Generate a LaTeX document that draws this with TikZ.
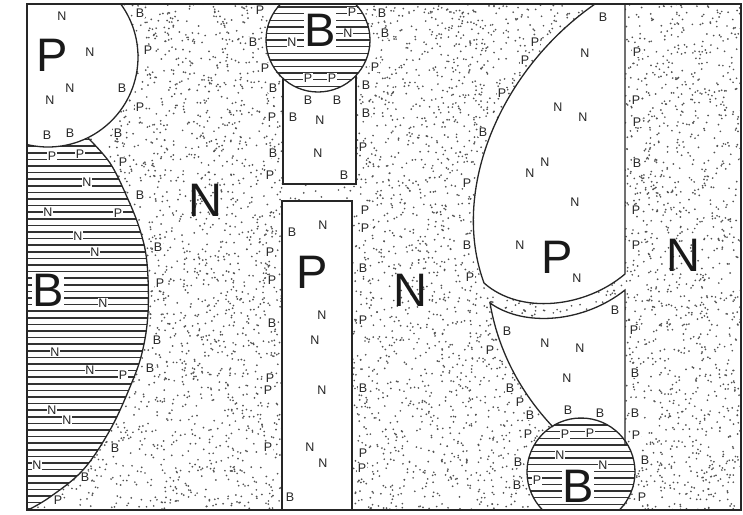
\documentclass[tikz,border=0pt]{standalone}
\usepackage{fontspec}
\setmainfont{Liberation Sans}
\begin{document}
\begin{tikzpicture}[x=1pt,y=-1pt,
  bd/.style={line width=1.3pt,draw=black!85},
  hatch/.style={line width=1.5pt,draw=black!80},
  dotc/.style={fill=black!68},
  sm/.style={font=\fontsize{12.5}{12.5}\selectfont,inner sep=0.7pt,fill=white,text=black!85},
  big/.style={font=\fontsize{47}{47}\selectfont,inner sep=0.5pt,text=black!90},
  bigw/.style={big,fill=white}]
\useasboundingbox[fill=white] (0,0) rectangle (743,514);
\begin{scope}
\clip (27,4) rectangle (741,510);
% stipple
\pgfmathsetseed{11}
\foreach \i in {1,...,7600}{\fill[dotc] ({27+714*rnd},{4+506*rnd}) circle (0.95);}
% left hatched region
\begin{scope}
\clip (20,100) -- (110,100) -- plot[smooth,tension=0.6] coordinates {(88,138) (110,163) (127,197) (140,230) (147,263) (148,313) (142,353) (130,387) (110,430) (83,470) (50,497) (28,510)} -- (20,515) -- cycle;
\fill[white] (0,0) rectangle (743,514);
\foreach \y in {1,7.6,...,520} \draw[hatch] (20,\y) -- (200,\y);
\end{scope}
% top-left circle
\fill[white] (48,57) circle (90);
% middle column
\fill[white] (283,60) rectangle (356,184);
\fill[white] (282,201) rectangle (352,512);
\begin{scope}
\clip (318,40) circle (52);
\fill[white] (0,0) rectangle (743,514);
\foreach \y in {0.5,7.1,...,100} \draw[hatch] (260,\y) -- (380,\y);
\end{scope}
% right lenses
\fill[white] (595,4) .. controls (500,70) and (450,190) .. (484,283) .. controls (520,315) and (585,308) .. (625,274) -- (625,4) -- cycle;
\fill[white] (490,303) .. controls (525,328) and (585,322) .. (625,290) -- (625,460) -- (560,460) -- (553,427) .. controls (520,392) and (498,350) .. (490,303) -- cycle;
\begin{scope}
\clip (581,472) circle (54);
\fill[white] (0,0) rectangle (743,514);
\foreach \y in {418.5,425.1,...,520} \draw[hatch] (520,\y) -- (640,\y);
\end{scope}
% small labels
\foreach \x/\y/\t [count=\i] in {
 62/16/N, 90/52/N, 70/88/N, 50/100/N, 122/88/B, 47/135/B, 70/133/B,
 140/13/B, 148/50/P, 140/107/P, 118/133/B, 123/162/P,
 52/156/P, 80/154/P, 87/182/N, 48/212/N, 118/213/P, 78/236/N, 95/252/N, 103/303/N,
 55/352/N, 90/370/N, 123/375/P, 52/410/N, 67/420/N, 37/465/N,
 140/195/B, 158/247/B, 160/283/P, 157/340/B, 150/368/B, 115/448/B, 85/477/B, 58/500/P,
 292/42/N, 348/33/N, 352/12/P, 308/78/P, 332/78/P,
 260/10/P, 253/42/B, 265/68/P, 273/88/B, 272/117/P, 273/153/B, 270/175/P,
 382/13/B, 385/33/B, 375/67/P, 366/85/B, 366/113/B, 363/147/P,
 308/100/B, 337/100/B, 293/117/B, 320/120/N, 318/153/N, 344/175/B,
 292/232/B, 323/225/N, 322/315/N, 315/340/N, 322/390/N, 310/447/N, 323/463/N, 290/497/B,
 270/252/P, 272/280/P, 272/323/B, 270/378/P, 268/390/P, 268/447/P,
 365/210/P, 365/228/P, 363/268/B, 363/320/P, 363/388/B, 363/453/P, 362/468/P,
 603/17/B, 585/53/N, 558/107/N, 583/117/N, 545/162/N, 530/173/N, 575/202/N, 520/245/N, 577/278/N,
 535/42/P, 525/60/P, 502/93/P, 483/132/B, 467/183/P, 467/245/B, 470/277/P,
 637/52/P, 636/100/P, 637/122/P, 637/163/B, 636/210/P, 636/245/P,
 615/310/B, 634/330/P, 635/373/B, 635/413/B, 636/435/P, 645/460/B, 642/497/P,
 507/331/B, 545/343/N, 580/348/N, 567/378/N, 568/410/B, 600/413/B,
 490/350/P, 510/388/B, 520/402/P, 530/415/B, 528/434/P, 518/462/B, 517/485/B,
 565/434/P, 590/433/P, 560/455/N, 603/465/N, 537/480/P}
 \node[sm] (s\i) at (\x,\y) {\t};
% big labels
\node[big] (bP1) at (52,55) {P};
\node[big] (bN1) at (205,200) {N};
\node[bigw] (bB1) at (48,290) {B};
\node[bigw] (bB2) at (320,30) {B};
\node[big] (bP2) at (312,272) {P};
\node[big] (bN2) at (410,290) {N};
\node[big] (bP3) at (557,257) {P};
\node[big] (bN3) at (683,255) {N};
\node[bigw] (bB3) at (578,486) {B};
% boundaries
\draw[bd] plot[smooth,tension=0.6] coordinates {(88,138) (110,163) (127,197) (140,230) (147,263) (148,313) (142,353) (130,387) (110,430) (83,470) (50,497) (28,510)};
\draw[bd] (48,57) circle (90);
\draw[bd] (283,78.5) -- (283,184) -- (356,184) -- (356,75.5);
\draw[bd] (282,201) rectangle (352,512);
\draw[bd] (318,40) circle (52);
\draw[bd] (595,4) .. controls (500,70) and (450,190) .. (484,283) .. controls (520,315) and (585,308) .. (625,274) -- (625,4);
\draw[bd] (553,427) .. controls (520,392) and (498,350) .. (490,303) .. controls (525,328) and (585,322) .. (625,290) -- (625,445);
\draw[bd] (581,472) circle (54);
\end{scope}
\draw[line width=1.6pt,draw=black!85] (27,4) rectangle (741,510);
\end{tikzpicture}
\end{document}
